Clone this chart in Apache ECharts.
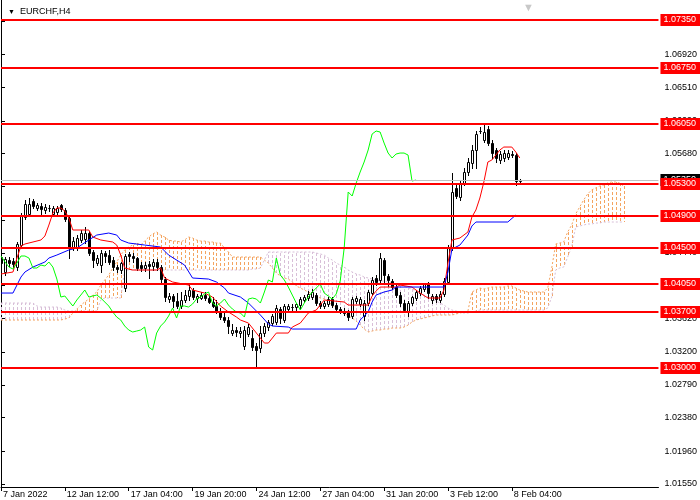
<!DOCTYPE html>
<html><head><meta charset="utf-8">
<script src="https://cdn.jsdelivr.net/npm/echarts@6/dist/echarts.min.js"></script>
<style>html,body{margin:0;padding:0;background:#fff}#c{width:700px;height:500px}</style>
</head><body><div id="c"></div>
<script>
const xTickLabels = ['7 Jan 2022','12 Jan 12:00','17 Jan 04:00','19 Jan 20:00','24 Jan 12:00','27 Jan 04:00','31 Jan 20:00','3 Feb 12:00','8 Feb 04:00'];
const xTickBars = [0,16,32,48,64,80,96,112,128];
const yTickValues = [1.0155,1.0196,1.0238,1.0279,1.0320,1.0362,1.0403,1.0444,1.0485,1.0527,1.0568,1.0609,1.0651,1.0692,1.0733];
const levels = [1.0735,1.0675,1.0605,1.0530,1.0490,1.0450,1.0405,1.0370,1.0300];
const bidPrice = 1.05350;

const opens = [
1.04387,1.04200,1.04350,1.04337,1.04262,1.04537,1.04887,1.04925,1.05087,1.05000,
1.05025,1.04975,1.05000,1.04925,1.04950,1.05037,1.04975,1.04875,1.04512,1.04500,
1.04600,1.04612,1.04687,1.04450,1.04312,1.04287,1.04437,1.04412,1.04350,1.04262,
1.04225,1.04000,1.04425,1.04400,1.04375,1.04287,1.04250,1.04300,1.04275,1.04325,
1.04262,1.04112,1.03862,1.03900,1.03837,1.03775,1.03850,1.03900,1.03975,1.03875,
1.03875,1.03912,1.03875,1.03825,1.03775,1.03700,1.03637,1.03600,1.03437,1.03475,
1.03437,1.03275,1.03425,1.03375,1.03275,1.03250,1.03437,1.03512,1.03562,1.03575,
1.03737,1.03600,1.03737,1.03762,1.03762,1.03787,1.03850,1.03875,1.03887,1.03912,
1.03812,1.03775,1.03800,1.03862,1.03787,1.03737,1.03712,1.03700,1.03650,1.03837,
1.03800,1.03650,1.03812,1.03937,1.04125,1.04100,1.04350,1.04150,1.04087,1.04012,
1.03912,1.03812,1.03712,1.03812,1.03875,1.03937,1.03987,1.04050,1.03850,1.03900,
1.03850,1.03925,1.04075,1.04500,1.05250,1.05137,1.05312,1.05450,1.05562,1.05725,
1.05962,1.05850,1.05987,1.05812,1.05725,1.05600,1.05625,1.05637,1.05675,1.05662,
1.05337];
const closes = [
1.04312,1.04362,1.04312,1.04300,1.04550,1.04912,1.05050,1.05050,1.05025,1.05037,
1.04987,1.05012,1.05000,1.05000,1.05000,1.04987,1.04862,1.04512,1.04587,1.04625,
1.04687,1.04687,1.04437,1.04350,1.04375,1.04437,1.04400,1.04325,1.04262,1.04237,
1.04312,1.04400,1.04400,1.04375,1.04250,1.04250,1.04287,1.04275,1.04325,1.04262,
1.04112,1.03887,1.03900,1.03837,1.03775,1.03850,1.03912,1.03975,1.03887,1.03900,
1.03912,1.03875,1.03825,1.03775,1.03700,1.03637,1.03600,1.03525,1.03475,1.03450,
1.03462,1.03475,1.03512,1.03262,1.03225,1.03437,1.03525,1.03575,1.03650,1.03750,
1.03625,1.03775,1.03775,1.03762,1.03800,1.03862,1.03887,1.03925,1.03950,1.03812,
1.03775,1.03812,1.03862,1.03787,1.03737,1.03700,1.03687,1.03637,1.03862,1.03875,
1.03862,1.03812,1.03950,1.04100,1.04075,1.04375,1.04162,1.04100,1.04012,1.03912,
1.03812,1.03725,1.03812,1.03887,1.03950,1.04000,1.04050,1.03937,1.03900,1.03862,
1.03925,1.04087,1.04500,1.05200,1.05150,1.05312,1.05450,1.05575,1.05725,1.05925,
1.05962,1.05950,1.05812,1.05687,1.05625,1.05675,1.05687,1.05687,1.05662,1.05337,
1.05350];
const lows = [
1.04275,1.04162,1.04275,1.04262,1.04225,1.04512,1.04862,1.04900,1.05000,1.04975,
1.04925,1.04937,1.04962,1.04900,1.04925,1.04962,1.04837,1.04375,1.04475,1.04475,
1.04575,1.04562,1.04412,1.04262,1.04287,1.04200,1.04325,1.04300,1.04225,1.04200,
1.04187,1.03962,1.04337,1.04325,1.04225,1.04212,1.04212,1.04125,1.04225,1.04225,
1.04075,1.03837,1.03825,1.03762,1.03750,1.03750,1.03825,1.03850,1.03862,1.03825,
1.03862,1.03850,1.03812,1.03762,1.03687,1.03612,1.03575,1.03437,1.03412,1.03400,
1.03387,1.03237,1.03400,1.03225,1.03025,1.03200,1.03400,1.03475,1.03537,1.03550,
1.03562,1.03575,1.03712,1.03700,1.03725,1.03737,1.03825,1.03850,1.03862,1.03787,
1.03750,1.03750,1.03775,1.03762,1.03712,1.03687,1.03662,1.03600,1.03625,1.03812,
1.03775,1.03600,1.03787,1.03912,1.04037,1.04075,1.04075,1.04025,1.03987,1.03887,
1.03775,1.03700,1.03650,1.03787,1.03850,1.03912,1.03962,1.03875,1.03812,1.03825,
1.03825,1.03900,1.04050,1.04475,1.05125,1.05100,1.05287,1.05412,1.05500,1.05500,
1.05937,1.05825,1.05787,1.05625,1.05575,1.05562,1.05587,1.05612,1.05637,1.05287,
1.05325];
const highs = [
1.04437,1.04387,1.04387,1.04375,1.04575,1.04937,1.05100,1.05125,1.05112,1.05062,
1.05062,1.05050,1.05037,1.05025,1.05025,1.05050,1.05000,1.04912,1.04637,1.04662,
1.04725,1.04762,1.04712,1.04475,1.04412,1.04475,1.04462,1.04475,1.04387,1.04287,
1.04325,1.04425,1.04450,1.04437,1.04387,1.04325,1.04325,1.04337,1.04362,1.04362,
1.04287,1.04137,1.03937,1.03925,1.03937,1.03950,1.03975,1.04062,1.04000,1.03925,
1.03950,1.03950,1.03912,1.03887,1.03850,1.03750,1.03687,1.03637,1.03550,1.03512,
1.03512,1.03525,1.03550,1.03475,1.03312,1.03525,1.03562,1.03600,1.03675,1.03787,
1.03762,1.03800,1.03800,1.03800,1.03812,1.03887,1.03912,1.03962,1.03987,1.03937,
1.03837,1.03837,1.03887,1.03887,1.03812,1.03762,1.03750,1.03725,1.03887,1.03900,
1.03887,1.03850,1.03975,1.04137,1.04162,1.04437,1.04375,1.04175,1.04112,1.04037,
1.03950,1.03850,1.03837,1.03900,1.03975,1.04025,1.04062,1.04075,1.03925,1.03925,
1.03962,1.04125,1.04537,1.05437,1.05300,1.05350,1.05500,1.05625,1.05787,1.05962,
1.06012,1.06037,1.06025,1.05850,1.05750,1.05712,1.05725,1.05725,1.05712,1.05687,
1.05362];

// Tenkan-sen (red) and Kijun-sen (blue): [bar, price]
const tenkan = [[0,1.04175],[3,1.04200],[4,1.04375],[5,1.04525],[6,1.04550],[10,1.04600],[11,1.04650],[12,1.04787],[13,1.04937],[14,1.05000],[15,1.05000],[16,1.04962],[17,1.04875],[18,1.04725],[22,1.04725],[23,1.04637],[25,1.04600],[28,1.04575],[29,1.04537],[30,1.04412],[31,1.04250],[33,1.04225],[39,1.04225],[40,1.04250],[41,1.04125],[42,1.04100],[43,1.04075],[47,1.04037],[48,1.03975],[51,1.03937],[53,1.03887],[55,1.03775],[57,1.03700],[59,1.03637],[60,1.03600],[62,1.03562],[64,1.03437],[66,1.03312],[67,1.03312],[69,1.03437],[72,1.03437],[73,1.03512],[75,1.03562],[77,1.03687],[79,1.03725],[81,1.03850],[86,1.03825],[87,1.03787],[92,1.03787],[93,1.03900],[94,1.03962],[95,1.04012],[99,1.04012],[100,1.04037],[103,1.04012],[105,1.03937],[107,1.03875],[110,1.03875],[111,1.03975],[112,1.04312],[113,1.04600],[115,1.04625],[117,1.04700],[118,1.04887],[119,1.04975],[120,1.05125],[121,1.05325],[122,1.05575],[123,1.05600],[124,1.05662],[125,1.05725],[126,1.05762],[128,1.05762],[129,1.05700],[130,1.05625]];
const kijun = [[0,1.03937],[3,1.03937],[4,1.04037],[5,1.04137],[6,1.04200],[8,1.04262],[11,1.04325],[12,1.04375],[14,1.04412],[17,1.04475],[19,1.04500],[22,1.04600],[24,1.04662],[27,1.04687],[29,1.04662],[30,1.04600],[32,1.04562],[36,1.04537],[40,1.04512],[42,1.04412],[46,1.04287],[48,1.04125],[52,1.04112],[54,1.04075],[56,1.04000],[57,1.03937],[60,1.03887],[62,1.03812],[65,1.03662],[67,1.03550],[68,1.03525],[72,1.03512],[73,1.03487],[89,1.03487],[90,1.03600],[92,1.03700],[93,1.03825],[94,1.03912],[96,1.03950],[98,1.03975],[99,1.04012],[111,1.04012],[112,1.04200],[113,1.04487],[115,1.04537],[117,1.04662],[118,1.04775],[119,1.04825],[127,1.04825],[129,1.04912]];

// Senkou span A / B per bar (0..156)
const spanA = [
1.03600,1.03600,1.03600,1.03600,1.03600,1.03600,1.03600,1.03600,1.03600,1.03600,
1.03600,1.03600,1.03600,1.03600,1.03600,1.03600,1.03612,1.03625,1.03687,1.03737,
1.03787,1.03825,1.03862,1.03912,1.03950,1.04037,1.04100,1.04162,1.04250,1.04325,
1.04412,1.04475,1.04512,1.04537,1.04562,1.04537,1.04587,1.04637,1.04675,1.04700,
1.04662,1.04637,1.04600,1.04587,1.04587,1.04575,1.04600,1.04637,1.04625,1.04600,
1.04587,1.04587,1.04575,1.04575,1.04562,1.04562,1.04500,1.04450,1.04387,1.04387,
1.04387,1.04387,1.04387,1.04387,1.04387,1.04387,1.04350,1.04312,1.04250,1.04187,
1.04150,1.04125,1.04112,1.04075,1.04025,1.04000,1.03975,1.03950,1.03925,1.03900,
1.03875,1.03862,1.03825,1.03787,1.03750,1.03725,1.03687,1.03650,1.03625,1.03587,
1.03537,1.03487,1.03450,1.03462,1.03475,1.03475,1.03487,1.03487,1.03500,1.03500,
1.03500,1.03512,1.03537,1.03575,1.03600,1.03612,1.03625,1.03637,1.03650,1.03662,
1.03662,1.03662,1.03662,1.03662,1.03675,1.03687,1.03700,1.03712,1.03950,1.03975,
1.04000,1.03987,1.04000,1.04012,1.04012,1.04012,1.04012,1.04025,1.04025,1.04000,
1.03975,1.03962,1.03950,1.03950,1.03950,1.03950,1.03950,1.04000,1.04250,1.04550,
1.04562,1.04575,1.04700,1.04787,1.04925,1.05012,1.05100,1.05175,1.05225,1.05250,
1.05275,1.05287,1.05312,1.05325,1.05325,1.05312,1.05275];
const spanB = [
1.03812,1.03812,1.03812,1.03812,1.03812,1.03812,1.03812,1.03812,1.03812,1.03775,
1.03762,1.03762,1.03762,1.03762,1.03762,1.03750,1.03725,1.03712,1.03712,1.03712,
1.03712,1.03712,1.03712,1.03712,1.03712,1.03850,1.03875,1.03875,1.03875,1.03875,
1.03875,1.04225,1.04225,1.04225,1.04225,1.04225,1.04225,1.04225,1.04225,1.04225,
1.04225,1.04225,1.04225,1.04225,1.04225,1.04225,1.04225,1.04225,1.04225,1.04225,
1.04225,1.04225,1.04225,1.04225,1.04225,1.04225,1.04225,1.04225,1.04225,1.04225,
1.04225,1.04225,1.04225,1.04237,1.04237,1.04250,1.04350,1.04450,1.04450,1.04450,
1.04450,1.04450,1.04450,1.04450,1.04450,1.04450,1.04450,1.04450,1.04450,1.04437,
1.04425,1.04412,1.04375,1.04350,1.04312,1.04287,1.04262,1.04225,1.04200,1.04175,
1.04162,1.04137,1.04125,1.04112,1.04100,1.04087,1.04087,1.04075,1.04062,1.04050,
1.04037,1.04025,1.04000,1.03987,1.03962,1.03937,1.03912,1.03887,1.03862,1.03837,
1.03812,1.03787,1.03750,1.03725,1.03712,1.03700,1.03687,1.03687,1.03700,1.03712,
1.03725,1.03725,1.03725,1.03725,1.03725,1.03725,1.03725,1.03725,1.03725,1.03725,
1.03725,1.03725,1.03725,1.03725,1.03725,1.03725,1.03725,1.03750,1.03887,1.04225,
1.04250,1.04262,1.04387,1.04512,1.04762,1.04775,1.04787,1.04800,1.04800,1.04812,
1.04812,1.04825,1.04825,1.04825,1.04825,1.04825,1.04825];
const chikouShift = 26;

const FONT = 'Liberation Sans, Arial, sans-serif';
const candleData = opens.map((o, i) => [i, o, closes[i], lows[i], highs[i]]);
const chikouData = closes.slice(chikouShift).map((c, i) => [i, c]);
const cloudData = spanA.map((a, i) => [i, a, spanB[i]]);
const spanAData = spanA.map((a, i) => [i, a]);
const spanBData = spanB.map((b, i) => [i, b]);

const chart = echarts.init(document.getElementById('c'), null, {renderer: 'canvas'});
const option = {
  animation: false,
  backgroundColor: '#ffffff',
  title: [
    {text: '\u25BC', left: 3, top: 4, textStyle: {fontSize: 7, color: '#000', fontWeight: 'normal', fontFamily: FONT}},
    {text: 'EURCHF,H4', left: 15, top: 2, textStyle: {fontSize: 9, color: '#000', fontWeight: 'normal', fontFamily: FONT}},
    {text: '\u25BC', left: 518, top: -3, textStyle: {fontSize: 11, color: '#c8c8c8', fontWeight: 'normal', fontFamily: FONT}}
  ],
  grid: {left: 0, right: 41, top: 0, bottom: 13, containLabel: false},
  xAxis: {
    type: 'value', min: 0, max: 164.75,
    splitLine: {show: false},
    axisLine: {show: true, onZero: false, lineStyle: {color: '#000', width: 1}},
    axisTick: {show: true, customValues: xTickBars, length: 4, lineStyle: {color: '#000'}},
    axisLabel: {
      customValues: xTickBars, align: 'left', margin: 3, padding: [0, 0, 0, 2],
      fontSize: 9, color: '#000', fontFamily: FONT,
      formatter: v => { const k = xTickBars.indexOf(Math.round(v)); return k >= 0 ? xTickLabels[k] : ''; }
    }
  },
  yAxis: {
    type: 'value', position: 'right', min: 1.015125, max: 1.076,
    splitLine: {show: false},
    axisLine: {show: true, lineStyle: {color: '#000', width: 1}},
    axisTick: {show: true, customValues: yTickValues, length: 4, lineStyle: {color: '#000'}},
    axisLabel: {customValues: yTickValues, margin: 6, fontSize: 9, color: '#000', fontFamily: FONT,
      formatter: v => v.toFixed(5)}
  },
  series: [
    {
      type: 'custom', name: 'cloud', z: 1, clip: true, silent: true,
      data: cloudData,
      encode: {x: 0, y: [1, 2]},
      renderItem: (params, api) => {
        const i = api.value(0), a = api.value(1), b = api.value(2);
        const pa = api.coord([i, a]), pb = api.coord([i, b]);
        const x = Math.round(pa[0]) + 0.5;
        return {type: 'line', shape: {x1: x, y1: Math.round(pa[1]), x2: x, y2: Math.round(pb[1])},
          style: {stroke: a >= b ? '#F4A460' : '#D8BFD8', lineWidth: 1, lineDash: [3, 2]}};
      }
    },
    {type: 'line', name: 'spanA', z: 1, data: spanAData, showSymbol: false, silent: true,
      lineStyle: {color: '#F4A460', width: 1, type: [2, 2]}},
    {type: 'line', name: 'spanB', z: 1, data: spanBData, showSymbol: false, silent: true,
      lineStyle: {color: '#D8BFD8', width: 1, type: [2, 2]}},
    {
      type: 'custom', name: 'candles', z: 2, clip: true, silent: true,
      data: candleData,
      encode: {x: 0, y: [1, 2, 3, 4]},
      renderItem: (params, api) => {
        const i = api.value(0);
        const o = api.value(1), c = api.value(2), l = api.value(3), h = api.value(4);
        const po = api.coord([i, o]), pc = api.coord([i, c]), pl = api.coord([i, l]), ph = api.coord([i, h]);
        const cx = Math.round(po[0]);
        const yO = Math.round(po[1]), yC = Math.round(pc[1]);
        const top = Math.min(yO, yC), bot = Math.max(yO, yC);
        const bull = c >= o;
        return {type: 'group', children: [
          {type: 'line', shape: {x1: cx + 0.5, y1: Math.round(ph[1]), x2: cx + 0.5, y2: Math.round(pl[1]) + 1},
            style: {stroke: '#000', lineWidth: 1}},
          {type: 'rect', shape: {x: cx - 0.5, y: top + 0.5, width: 2, height: bot - top},
            style: {fill: bull ? '#ffffff' : '#000000', stroke: '#000', lineWidth: 1}}
        ]};
      }
    },
    {type: 'line', name: 'tenkan', z: 3, data: tenkan, showSymbol: false, silent: true,
      lineStyle: {color: '#FF0000', width: 1}},
    {type: 'line', name: 'kijun', z: 3, data: kijun, showSymbol: false, silent: true,
      lineStyle: {color: '#0000FF', width: 1}},
    {type: 'line', name: 'chikou', z: 3, data: chikouData, showSymbol: false, silent: true,
      lineStyle: {color: '#00FF00', width: 1}},
    {type: 'line', name: 'bid', z: 4, data: [], silent: true,
      markLine: {silent: true, symbol: ['none', 'none'], animation: false, precision: 5,
        lineStyle: {color: '#C0C0C0', width: 1, type: 'solid'},
        label: {show: true, position: 'end', distance: 2, formatter: p => Number(p.value).toFixed(5),
          backgroundColor: '#000', color: '#fff', fontSize: 9, fontFamily: FONT, padding: [1, 4, 1, 3], lineHeight: 10},
        data: [{yAxis: bidPrice}]}},
    {type: 'line', name: 'levels', z: 5, data: [], silent: true,
      markLine: {silent: true, symbol: ['none', 'none'], animation: false, precision: 5,
        lineStyle: {color: '#FF0000', width: 2, type: 'solid'},
        label: {show: true, position: 'end', distance: 2, formatter: p => Number(p.value).toFixed(5),
          backgroundColor: '#FF0000', color: '#fff', fontSize: 9, fontFamily: FONT, padding: [1, 4, 1, 3], lineHeight: 10},
        emphasis: {disabled: true},
        data: levels.map(v => ({yAxis: v}))}}
  ]
};
chart.setOption(option);
</script></body></html>
